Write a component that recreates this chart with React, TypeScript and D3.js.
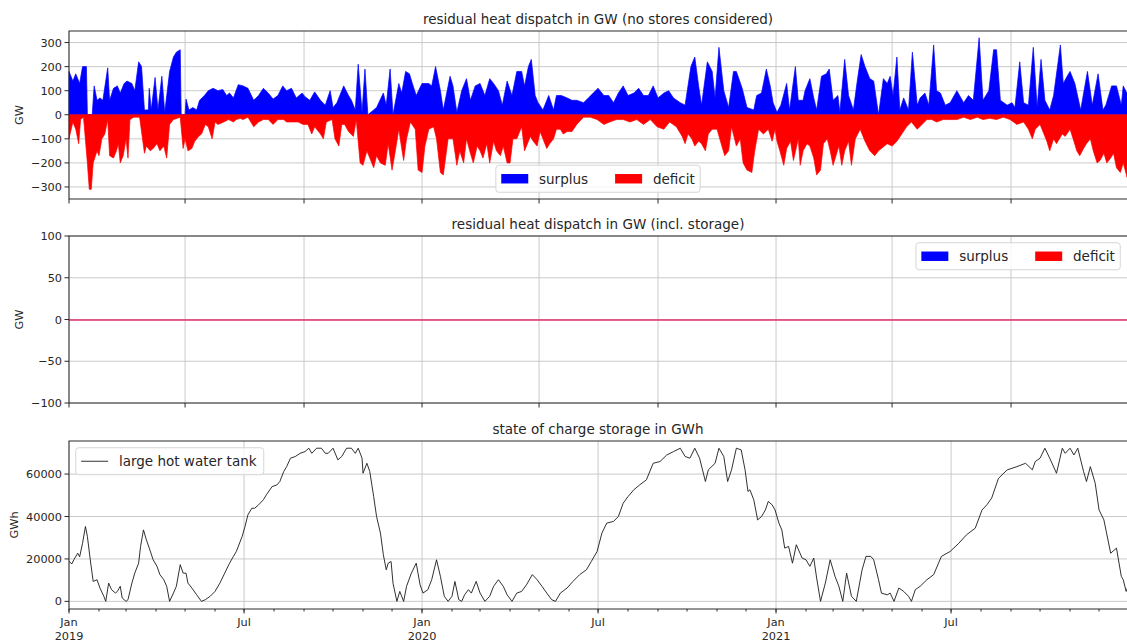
import React from "react";
import * as d3 from "d3";

// ---------------- DATA ----------------
// days since 2019-01-01 and GW values
const surplusDay = [0,4,7,11,14,18,19,24,26,29,32,35,40,42,46,50,53,57,60,65,68,72,75,78,82,83,85,89,92,96,99,104,108,111,115,116,120,121,124,128,132,135,140,144,149,154,159,163,166,170,175,180,185,191,196,201,206,211,216,221,225,230,235,241,244,249,254,260,265,270,273,277,284,289,292,296,299,303,306,309,315,318,325,328,332,335,341,344,348,352,355,359,365,368,372,375,379,384,387,394,397,401,406,411,415,420,425,430,435,439,444,448,453,458,463,468,471,475,478,482,485,490,496,501,504,509,515,520,525,532,537,542,547,553,558,563,568,573,578,584,589,594,599,604,609,615,620,625,632,637,643,647,651,654,660,665,668,672,677,682,687,690,696,701,708,711,716,721,725,728,732,736,742,745,751,754,759,761,766,770,773,778,783,786,790,795,797,802,806,811,815,819,823,828,832,837,842,846,849,852,856,859,863,868,872,877,880,885,889,894,897,901,906,911,918,925,930,935,941,945,951,956,959,963,970,975,978,983,987,992,997,1001,1005,1009,1014,1018,1025,1028,1032,1035,1040,1046,1053,1058,1064,1069,1072,1078,1083,1088,1090,1095];
const surplusGW = [180,140,170,130,200,200,0,0,120,60,70,60,195,60,110,120,90,130,140,130,100,220,200,20,20,110,20,155,20,160,10,180,240,260,270,0,0,65,20,30,20,60,80,100,110,100,105,80,90,70,125,120,110,60,80,110,90,65,80,120,100,110,70,90,75,60,95,60,40,100,30,50,120,80,60,20,210,10,190,0,20,30,90,40,190,0,130,90,180,170,130,80,130,130,130,120,200,100,20,160,120,10,100,150,60,120,130,80,150,130,100,40,140,80,180,180,120,200,230,80,50,20,80,20,80,80,70,60,60,50,70,90,110,80,80,50,90,120,80,90,110,80,80,120,70,90,100,70,50,40,200,240,120,40,220,180,70,280,100,30,180,180,110,30,20,80,90,190,120,50,10,40,130,20,200,60,60,100,150,70,20,160,170,190,60,80,10,230,80,20,140,250,200,150,140,0,150,130,160,80,240,20,70,20,260,40,70,90,40,290,100,90,40,50,100,50,80,60,320,60,100,270,270,60,40,50,30,220,50,40,280,30,230,60,20,80,290,130,160,180,130,20,180,40,170,20,40,120,120,40,120,80];

const deficitDay = [0,4,7,10,12,15,19,21,23,25,29,31,34,37,40,42,46,49,51,53,56,59,61,63,67,73,78,80,84,87,91,94,98,101,104,108,115,118,120,123,127,130,134,137,141,144,148,151,154,160,165,170,173,177,180,185,191,196,201,206,211,216,222,225,232,237,242,247,251,254,260,263,266,272,275,279,282,285,289,294,297,301,304,308,311,315,318,322,327,330,334,337,341,344,346,349,353,358,361,365,368,372,377,380,384,387,392,397,401,404,408,411,415,418,422,425,428,432,435,439,442,446,449,453,456,459,463,468,471,477,480,484,487,490,494,497,501,504,508,511,515,520,525,532,539,546,553,559,566,573,580,587,594,601,608,615,621,628,634,637,640,644,647,651,654,658,661,665,670,675,678,682,685,690,694,697,701,706,709,713,718,723,727,730,732,735,739,742,746,749,754,756,759,763,766,770,773,777,780,784,787,790,796,799,802,806,809,813,818,823,828,833,837,840,846,851,856,861,866,871,877,882,887,892,897,904,911,918,925,932,939,945,952,959,966,973,980,987,992,996,999,1004,1008,1011,1014,1018,1021,1027,1030,1035,1039,1042,1045,1049,1052,1056,1059,1063,1066,1070,1073,1077,1080,1083,1087,1090,1094,1095];
const deficitGW = [-100,-30,-60,-120,-20,-10,-200,-310,-310,-200,-150,-170,-100,-80,-20,-170,-180,-150,-120,-200,-170,-100,-180,-20,-10,-10,-160,-130,-150,-140,-120,-150,-130,-180,-40,-20,-10,-140,-100,-150,-140,-110,-90,-80,-40,-50,-100,-30,-40,-30,-20,-30,-20,-15,-20,-10,-50,-30,-20,-20,-40,-20,-20,-30,-30,-30,-40,-40,-80,-50,-80,-100,-30,-20,-100,-130,-40,-40,-70,-90,-20,-200,-210,-150,-180,-220,-170,-200,-210,-120,-230,-160,-60,-140,-190,-100,-30,-60,-230,-240,-130,-60,-50,-100,-240,-250,-100,-100,-210,-150,-200,-100,-160,-200,-130,-150,-180,-120,-200,-110,-150,-170,-130,-200,-200,-100,-100,-50,-150,-90,-110,-130,-70,-100,-140,-120,-100,-60,-60,-80,-70,-70,-40,-10,-10,-20,-40,-30,-20,-20,-30,-20,-40,-20,-50,-60,-30,-50,-90,-120,-80,-100,-130,-110,-120,-150,-80,-60,-60,-130,-170,-150,-50,-130,-100,-200,-230,-240,-150,-60,-80,-60,-110,-60,-110,-150,-210,-140,-110,-190,-100,-210,-150,-120,-130,-180,-250,-230,-120,-100,-150,-210,-130,-210,-150,-110,-210,-100,-60,-110,-150,-170,-150,-140,-120,-130,-110,-80,-50,-30,-60,-40,-20,-20,-30,-20,-20,-20,-10,-20,-10,-20,-15,-20,-10,-20,-40,-30,-60,-100,-60,-40,-80,-110,-150,-100,-120,-80,-90,-60,-110,-150,-170,-140,-120,-100,-150,-200,-190,-160,-200,-180,-160,-220,-240,-200,-260,-200];

// state of charge, days since 2019-01-01 and GWh
const socDay = [0,3,5,9,11,14,17,19,22,25,29,32,36,38,41,44,48,50,53,55,59,61,65,68,72,74,77,80,83,87,91,94,98,101,104,108,111,115,118,121,123,127,132,137,141,146,151,156,161,166,170,173,179,182,185,189,192,196,201,204,210,215,218,222,225,229,234,239,244,248,251,256,261,265,268,273,278,282,287,292,296,299,303,304,308,311,315,318,322,325,328,330,333,335,339,342,346,349,354,359,363,366,371,375,380,384,388,392,396,399,403,406,409,413,416,421,425,430,435,439,444,449,453,458,463,468,473,479,484,489,494,499,503,508,515,521,528,535,540,546,551,556,563,568,573,578,584,590,597,604,611,618,625,632,637,642,647,652,658,661,668,672,677,681,685,690,695,699,702,704,708,712,716,720,723,727,730,734,737,740,744,748,752,758,762,766,770,773,777,782,787,792,796,800,804,809,814,820,824,829,832,837,840,846,849,853,858,863,868,871,875,880,887,894,902,911,920,928,937,944,949,954,961,970,980,989,996,999,1004,1009,1014,1021,1027,1030,1035,1039,1043,1049,1052,1056,1061,1065,1070,1077,1083,1088,1090,1093,1095];
const socGWh = [18800,17700,19600,22700,21000,27400,35300,30600,19600,9400,10200,6300,2400,0,8600,5500,3900,4700,7100,1600,0,800,8600,13300,18000,25900,33700,29000,25100,19600,16500,12600,10200,7100,0,3900,7100,17300,13300,13300,8600,6300,3100,0,800,2400,4700,8600,13300,18000,21200,23500,30600,35300,40800,43900,43900,45500,47900,50200,54100,54900,56500,61200,63500,67500,68300,69800,70600,72200,69800,72200,72200,69800,69800,72200,66700,68300,72200,72200,69800,72200,67500,60400,65100,61200,49400,40000,32200,22000,14900,18000,18800,8600,0,4700,0,7100,13300,18000,7800,3900,5500,10200,19600,11800,2400,0,2400,9400,800,0,3100,5500,3900,9400,3900,0,2400,7100,10200,7100,3100,0,3900,4700,7800,12600,10200,7100,3900,800,0,3900,6300,9400,12600,14900,18800,23500,32200,36900,37700,40000,46300,49400,52600,54900,57300,65100,65900,69000,70600,72200,68300,67500,72200,67500,56500,62000,65100,72200,68300,56500,62000,72200,71400,62000,51800,52600,47900,38400,40000,43100,47100,45500,43100,36900,33700,25100,25900,18000,26700,20400,19600,16500,20400,11000,0,8600,19600,11800,7100,0,13300,2400,0,14900,21200,21200,19600,10200,3900,3100,3900,0,6300,4700,2400,0,5500,7100,10200,12600,21200,23500,27400,31400,34500,43100,45500,48700,58000,62000,63500,65100,62000,65900,67500,72200,67500,60400,72200,69800,72200,69000,72200,61200,56500,63500,55700,43100,38400,22700,25100,11800,10200,4700,7100];

const topTicks = [-300, -200, -100, 0, 100, 200, 300];
const midTicks = [-100, -50, 0, 50, 100];
const socTicks = [0, 20000, 40000, 60000];
const seriesNames = ["surplus", "deficit"];
const seriesColors = ["#0000ff", "#ff0000"];
const socName = "large hot water tank";
const titles = [
  "residual heat dispatch in GW (no stores considered)",
  "residual heat dispatch in GW (incl. storage)",
  "state of charge storage in GWh",
];

// ---------------- LAYOUT ----------------
const W = 1127, H = 642;
const L = 69, R = 1129;
const P1 = { top: 31, bottom: 199 };
const P2 = { top: 236, bottom: 403 };
const P3 = { top: 441, bottom: 609 };
const FONT = "DejaVu Sans, Verdana, sans-serif";
const TXT = "#262626";
const GRID = "#c4c4c4";
const SPINE = "#2a2a2a";
const TICK_FS = 11.3;
const TITLE_FS = 13.5;
const LEG_FS = 13.5;

const t0 = Date.UTC(2019, 0, 1);
const dayToDate = (d: number) => new Date(t0 + d * 864e5);
const x = d3.scaleUtc().domain([new Date(t0), new Date(Date.UTC(2021, 11, 31, 23))]).range([L, R]);
const y1 = d3.scaleLinear().domain([-350, 348]).range([P1.bottom, P1.top]);
const y2 = d3.scaleLinear().domain([-100, 100]).range([P2.bottom, P2.top]);
const y3 = d3.scaleLinear().domain([-3600, 75600]).range([P3.bottom, P3.top]);

const fourMonth = d3.utcMonth.every(4)!.range(new Date(t0), new Date(Date.UTC(2022, 0, 1)));
const sixMonth = d3.utcMonth.every(6)!.range(new Date(t0), new Date(Date.UTC(2022, 0, 1)));
const months = d3.utcMonth.range(new Date(t0), new Date(Date.UTC(2022, 0, 1)));

const fmtTick = (v: number) => (v < 0 ? "\u2212" + Math.abs(v) : String(v));

function areaPath(days: number[], vals: number[], y: d3.ScaleLinear<number, number>) {
  const pts = days.map((d, i) => [d, vals[i]] as [number, number]);
  return d3.area<[number, number]>()
    .x((p) => x(dayToDate(p[0])))
    .y0(y(0))
    .y1((p) => y(p[1]))(pts) || "";
}
function linePath(days: number[], vals: number[], y: d3.ScaleLinear<number, number>) {
  const pts = days.map((d, i) => [d, vals[i]] as [number, number]);
  return d3.line<[number, number]>().x((p) => x(dayToDate(p[0]))).y((p) => y(p[1]))(pts) || "";
}

function Frame({ p, yScale, ticks, xGrid, label, labelX, title }: any) {
  return (
    <g>
      {ticks.map((t: number) => (
        <line key={"hg" + t} x1={L} x2={R} y1={yScale(t)} y2={yScale(t)} stroke={GRID} strokeWidth={0.9} />
      ))}
      {xGrid.map((d: Date, i: number) => (
        <line key={"vg" + i} x1={x(d)} x2={x(d)} y1={p.top} y2={p.bottom} stroke={GRID} strokeWidth={0.9} />
      ))}
      {ticks.map((t: number) => (
        <g key={"yt" + t}>
          <line x1={L - 4.5} x2={L} y1={yScale(t)} y2={yScale(t)} stroke={SPINE} strokeWidth={1} />
          <text x={L - 7} y={yScale(t)} dy="0.36em" textAnchor="end" fontSize={TICK_FS} fill={TXT} fontFamily={FONT}>
            {fmtTick(t)}
          </text>
        </g>
      ))}
      <text transform={`translate(${labelX},${(p.top + p.bottom) / 2}) rotate(-90)`} textAnchor="middle"
        fontSize={TICK_FS} fill={TXT} fontFamily={FONT}>{label}</text>
      <text x={(L + R) / 2 - 1} y={p.top - 7} textAnchor="middle" fontSize={TITLE_FS} fill={TXT} fontFamily={FONT}>{title}</text>
    </g>
  );
}

function Spines({ p }: any) {
  return (
    <rect x={L} y={p.top} width={R - L} height={p.bottom - p.top} fill="none" stroke={SPINE} strokeWidth={1} />
  );
}

function PatchLegend({ left, top }: { left: number; top: number }) {
  const pad = 0.4 * LEG_FS;
  const hl = 2 * LEG_FS;
  const htp = 0.8 * LEG_FS;
  const cs = 2 * LEG_FS;
  const h = 27;
  const cy = top + h / 2;
  const w1 = 3.634 * LEG_FS;
  const w2 = 3.1 * LEG_FS;
  const width = pad * 2 + hl + htp + w1 + cs + hl + htp + w2;
  const xs = [left + pad, left + pad + hl + htp + w1 + cs];
  return (
    <g>
      <rect x={left} y={top} width={width} height={h} rx={3} fill="#fff" fillOpacity={0.8} stroke="#d6d6d6" strokeWidth={1} />
      {seriesNames.map((n, i) => (
        <g key={n}>
          <rect x={xs[i]} y={cy - 0.35 * LEG_FS} width={hl} height={0.7 * LEG_FS} fill={seriesColors[i]} />
          <text x={xs[i] + hl + htp} y={cy} dy="0.36em" fontSize={LEG_FS} fill={TXT} fontFamily={FONT}>{n}</text>
        </g>
      ))}
    </g>
  );
}

export default function App() {
  const legW = 0.8 * LEG_FS + 2 * LEG_FS + 0.8 * LEG_FS + 3.634 * LEG_FS + 2 * LEG_FS + 2 * LEG_FS + 0.8 * LEG_FS + 3.1 * LEG_FS;
  const socLegLeft = L + 0.5 * LEG_FS;
  const socLegTop = P3.top + 0.5 * LEG_FS;
  return (
    <svg width={W} height={H} style={{ position: "absolute", left: 0, top: 0, background: "#fff" }}>
      <rect x={0} y={0} width={W} height={H} fill="#fff" />

      {/* Panel 1 */}
      <Frame p={P1} yScale={y1} ticks={topTicks} xGrid={fourMonth} label="GW" labelX={23} title={titles[0]} />
      <path d={areaPath(surplusDay, surplusGW, y1)} fill={seriesColors[0]} stroke={seriesColors[0]} strokeWidth={0.7} />
      <path d={areaPath(deficitDay, deficitGW, y1)} fill={seriesColors[1]} stroke={seriesColors[1]} strokeWidth={0.7} />
      <PatchLegend left={(L + R) / 2 - legW / 2 - 1} top={P1.bottom - 0.5 * LEG_FS - 27} />
      <Spines p={P1} />
      {fourMonth.map((d, i) => (
        <line key={"t1" + i} x1={x(d)} x2={x(d)} y1={P1.bottom} y2={P1.bottom + 4.5} stroke={SPINE} />
      ))}

      {/* Panel 2 */}
      <Frame p={P2} yScale={y2} ticks={midTicks} xGrid={fourMonth} label="GW" labelX={23} title={titles[1]} />
      <line x1={L} x2={R} y1={y2(0) + 0.5} y2={y2(0) + 0.5} stroke="#e2306a" strokeWidth={1.3} />
      <PatchLegend left={R - 2 - 0.5 * LEG_FS - legW} top={P2.top + 0.5 * LEG_FS} />
      <Spines p={P2} />
      {fourMonth.map((d, i) => (
        <line key={"t2" + i} x1={x(d)} x2={x(d)} y1={P2.bottom} y2={P2.bottom + 4.5} stroke={SPINE} />
      ))}

      {/* Panel 3 */}
      <Frame p={P3} yScale={y3} ticks={socTicks} xGrid={sixMonth} label="GWh" labelX={18} title={titles[2]} />
      <path d={linePath(socDay, socGWh, y3)} fill="none" stroke="#1a1a1a" strokeWidth={0.9} />
      <g>
        <rect x={socLegLeft} y={socLegTop} width={188} height={27} rx={3} fill="#fff" fillOpacity={0.8} stroke="#d6d6d6" />
        <line x1={socLegLeft + 0.4 * LEG_FS} x2={socLegLeft + 2.4 * LEG_FS} y1={socLegTop + 13.5} y2={socLegTop + 13.5} stroke="#1a1a1a" strokeWidth={0.9} />
        <text x={socLegLeft + 3.2 * LEG_FS} y={socLegTop + 13.5} dy="0.36em" fontSize={LEG_FS} fill={TXT} fontFamily={FONT}>{socName}</text>
      </g>
      <Spines p={P3} />
      {months.map((d, i) => (
        <line key={"mt" + i} x1={x(d)} x2={x(d)} y1={P3.bottom} y2={P3.bottom + 2.5} stroke={SPINE} />
      ))}
      {sixMonth.map((d, i) => (
        <g key={"xt" + i}>
          <line x1={x(d)} x2={x(d)} y1={P3.bottom} y2={P3.bottom + 4.5} stroke={SPINE} />
          <text x={x(d)} y={625.5} textAnchor="middle" fontSize={TICK_FS} fill={TXT} fontFamily={FONT}>
            {d.getUTCMonth() === 0 ? "Jan" : "Jul"}
          </text>
          {d.getUTCMonth() === 0 && (
            <text x={x(d)} y={640} textAnchor="middle" fontSize={TICK_FS} fill={TXT} fontFamily={FONT}>
              {d.getUTCFullYear()}
            </text>
          )}
        </g>
      ))}
    </svg>
  );
}
